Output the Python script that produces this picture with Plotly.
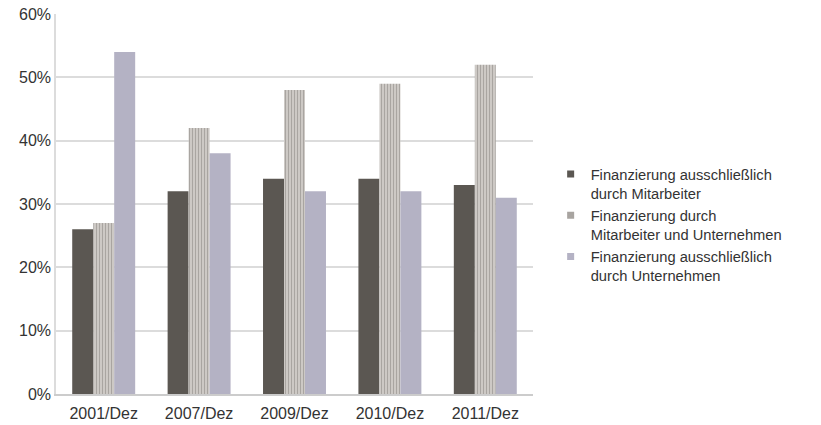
import plotly.graph_objects as go

categories = ["2001/Dez", "2007/Dez", "2009/Dez", "2010/Dez", "2011/Dez"]
mitarbeiter = [26, 32, 34, 34, 33]
beide = [27, 42, 48, 49, 52]
unternehmen = [54, 38, 32, 32, 31]
names = [
    "Finanzierung ausschließlich<br>durch Mitarbeiter",
    "Finanzierung durch<br>Mitarbeiter und Unternehmen",
    "Finanzierung ausschließlich<br>durch Unternehmen",
]
colors = ["#5b5752", "#a8a4a0", "#b4b2c4"]

fig = go.Figure()
fig.add_trace(go.Bar(x=categories, y=mitarbeiter, name=names[0], showlegend=False,
                     marker=dict(color=colors[0], line=dict(width=0))))
fig.add_trace(go.Bar(x=categories, y=beide, name=names[1], showlegend=False,
                     marker=dict(color="#c9c5c0", line=dict(width=0),
                                 pattern=dict(shape="|", fgcolor="#85817d", bgcolor="#cdc9c5",
                                              size=3, solidity=0.35))))
fig.add_trace(go.Bar(x=categories, y=unternehmen, name=names[2], showlegend=False,
                     marker=dict(color=colors[2], line=dict(width=0))))

# legend entries (small square keys)
for nm, c in zip(names, colors):
    fig.add_trace(go.Scatter(x=[None], y=[None], mode="markers", name=nm,
                             marker=dict(symbol="square", size=7, color=c)))

fig.update_layout(
    width=821, height=425,
    margin=dict(l=56, r=288, t=14, b=31),
    paper_bgcolor="white", plot_bgcolor="white",
    barmode="group", bargap=0.34, bargroupgap=0,
    font=dict(family="Liberation Sans, Arial, sans-serif", size=16, color="#333333"),
    showlegend=True,
    legend=dict(x=1.037, y=0.445, xanchor="left", yanchor="middle",
                font=dict(size=14.7, color="#333333"), tracegroupgap=0,
                itemwidth=30, valign="top", bgcolor="rgba(0,0,0,0)"),
    yaxis=dict(range=[0, 60], dtick=10, ticksuffix="%", showgrid=True,
               gridcolor="#dcdcdc", gridwidth=1.5, zeroline=False,
               showline=True, linecolor="#dcdcdc", linewidth=1.5, automargin=False,
               ticks="", tickfont=dict(size=16, color="#333333")),
    xaxis=dict(showline=True, linecolor="#cccccc", linewidth=1.5, ticks="",
               ticklabelstandoff=4, automargin=False,
               tickfont=dict(size=16, color="#333333")),
)

fig.write_html("out.html")
